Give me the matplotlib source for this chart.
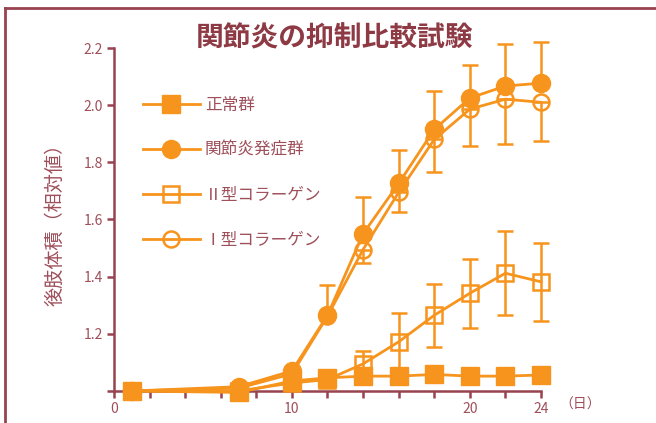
import matplotlib.pyplot as plt
from matplotlib.lines import Line2D

plt.rcParams['font.family'] = ['Noto Sans CJK JP', 'DejaVu Sans']

ORANGE = '#F7941D'
MAROON = '#974350'
TEXT = '#9E4F5A'

# 日数
days = [1, 7, 10, 12, 14, 16, 18, 20, 22, 24]

# 正常群
normal = [1.0, 0.995, 1.035, 1.046, 1.052, 1.052, 1.058, 1.052, 1.052, 1.056]

# 関節炎発症群 (上側のみの誤差)
arthritis = [1.0, 1.015, 1.07, 1.265, 1.55, 1.726, 1.915, 2.025, 2.067, 2.077]
arthritis_err_up = [0, 0, 0, 0.105, 0.13, 0.118, 0.135, 0.115, 0.148, 0.143]

# I型コラーゲン (下側のみの誤差)
col1 = [1.0, 1.01, 1.06, 1.262, 1.495, 1.695, 1.88, 1.986, 2.021, 2.01]
col1_err_down = [0, 0, 0, 0, 0.046, 0.07, 0.115, 0.13, 0.158, 0.136]

# II型コラーゲン
col2 = [1.0, 1.0, 1.028, 1.04, 1.095, 1.172, 1.265, 1.342, 1.412, 1.382]
col2_err = [0, 0, 0, 0, 0.045, 0.1, 0.11, 0.12, 0.147, 0.136]

labels = ['正常群', '関節炎発症群', 'Ⅱ型コラーゲン', 'Ⅰ型コラーゲン']

fig = plt.figure(figsize=(6.56, 4.23), dpi=100)
ax = fig.add_axes([114 / 656, 32 / 423, 427 / 656, 343 / 423])

lw = 2.0
ekw = dict(fmt='none', ecolor=ORANGE, elinewidth=1.8, capsize=6, capthick=1.8, clip_on=False)

# 誤差棒
ax.errorbar(days, col2, yerr=[col2_err, col2_err], zorder=2, **ekw)
ax.errorbar(days, col1, yerr=[col1_err_down, [0] * len(days)], zorder=2, **ekw)
ax.errorbar(days, arthritis, yerr=[[0] * len(days), arthritis_err_up], zorder=2, **ekw)

h_col2, = ax.plot(days, col2, color=ORANGE, lw=lw, marker='s', ms=11.5, mfc='none',
                  mec=ORANGE, mew=1.8, clip_on=False, zorder=3)
h_col1, = ax.plot(days, col1, color=ORANGE, lw=lw, marker='o', ms=11.5, mfc='none',
                  mec=ORANGE, mew=1.8, clip_on=False, zorder=3)
h_norm, = ax.plot(days, normal, color=ORANGE, lw=lw, marker='s', ms=13.5, mfc=ORANGE,
                  mec=ORANGE, clip_on=False, zorder=4)
h_arth, = ax.plot(days, arthritis, color=ORANGE, lw=lw, marker='o', ms=13, mfc=ORANGE,
                  mec=ORANGE, clip_on=False, zorder=4)

ax.set_xlim(0, 24)
ax.set_ylim(1.0, 2.2)
ax.set_xticks(range(0, 25, 2))
ax.set_xticklabels([str(d) if d in (0, 10, 20, 24) else '' for d in range(0, 25, 2)])
yt = [1.0, 1.2, 1.4, 1.6, 1.8, 2.0, 2.2]
ax.set_yticks(yt)
ax.set_yticklabels(['' if v == 1.0 else f'{v:.1f}' for v in yt])

for s in ['top', 'right']:
    ax.spines[s].set_visible(False)
for s in ['left', 'bottom']:
    ax.spines[s].set_color(MAROON)
    ax.spines[s].set_linewidth(1.8)
ax.tick_params(colors=MAROON, labelcolor=TEXT, width=1.8, length=5, labelsize=10, pad=3)

ax.text(26.2, -0.02, '（日）', transform=ax.get_xaxis_transform(), ha='center', va='top',
        fontsize=10, color=TEXT)

ax.set_ylabel('後肢体積（相対値）', fontsize=13.8, color=TEXT, labelpad=13)

fig.text(335 / 656, 1 - 38 / 423, '関節炎の抑制比較試験', ha='center', va='center',
         fontsize=20, fontweight='bold', color='#8E3A45')

ax.legend([h_norm, h_arth, h_col2, h_col1], labels, loc='upper left',
          bbox_to_anchor=(143 / 656, 1 - 97 / 423), bbox_transform=fig.transFigure,
          frameon=False, fontsize=12, labelcolor=TEXT, handlelength=3.4,
          handletextpad=0.3, labelspacing=1.68, borderpad=0, borderaxespad=0)

# 外枠
fig.add_artist(Line2D([5 / 656, 1], [1 - 8 / 423, 1 - 8 / 423], color=MAROON, lw=2,
                      transform=fig.transFigure))
fig.add_artist(Line2D([5 / 656, 5 / 656], [0, 1 - 8 / 423], color=MAROON, lw=2,
                      transform=fig.transFigure))

fig.savefig('out.png', dpi=100)
